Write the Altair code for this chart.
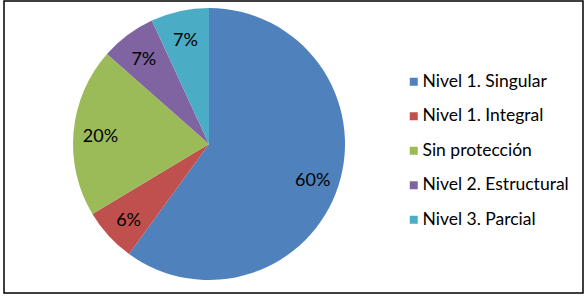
import altair as alt
import pandas as pd

categories = ["Nivel 1. Singular", "Nivel 1. Integral", "Sin protección",
              "Nivel 2. Estructural", "Nivel 3. Parcial"]
values = [60.0, 6.4, 20.1, 6.6, 6.9]
colors = ["#4F81BD", "#C0504D", "#9BBB59", "#8064A2", "#4BACC6"]

df = pd.DataFrame({"cat": categories, "value": values, "idx": list(range(len(categories)))})

base = alt.Chart(df).encode(
    theta=alt.Theta("value:Q", stack=True),
    order=alt.Order("idx:Q"),
    x=alt.value(205),
    y=alt.value(143),
)

pie = base.mark_arc(outerRadius=136).encode(
    color=alt.Color(
        "cat:N",
        scale=alt.Scale(domain=categories, range=colors),
        legend=alt.Legend(
            title=None, orient="none", legendX=401, legendY=72,
            symbolType="square", symbolSize=64, symbolStrokeWidth=0,
            labelFont="Lato", labelFontSize=17.5, labelColor="black",
            rowPadding=15.5, labelOffset=0, padding=0,
        ),
    )
)

text = base.transform_calculate(
    label="format(datum.value / 100, '.0%')"
).mark_text(radius=109, dy=3, font="Lato", fontSize=18, color="black").encode(
    text="label:N"
)

chart = alt.layer(pie, text).properties(
    width=579, height=292,
    autosize=alt.AutoSizeParams(type="none"),
    padding={"left": 4, "top": 1, "right": 2, "bottom": 6},
    background="white",
).configure_view(stroke="black", strokeWidth=1.5)

chart.save("out.html", embed_options={"renderer": "svg", "actions": False})
